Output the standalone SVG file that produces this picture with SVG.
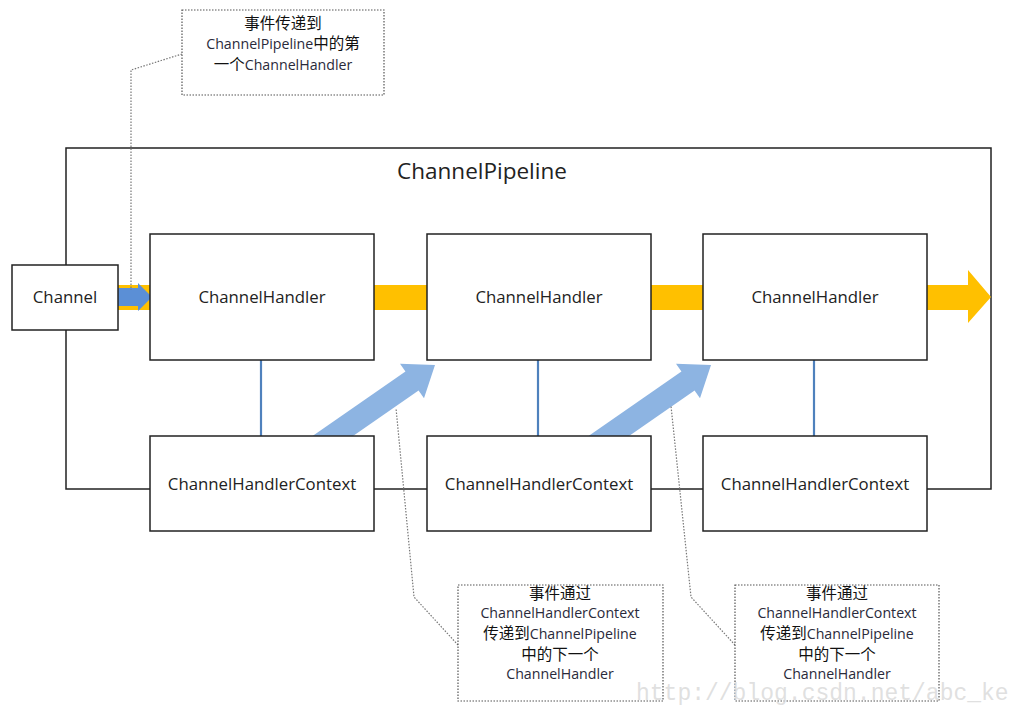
<svg xmlns="http://www.w3.org/2000/svg" width="1010" height="711" viewBox="0 0 1010 711">
<style>
.box{fill:#fff;stroke:#222;stroke-width:1.5}
.pipe{fill:none;stroke:#222;stroke-width:1.5}
.lbl{font-family:"Open Sans","Noto Sans","Noto Sans CJK SC",sans-serif;font-size:16.8px;fill:#222;text-anchor:middle}
.note{fill:#fff;stroke:#555;stroke-width:1.2;stroke-dasharray:1.5 1.5}
.lead{fill:none;stroke:#777;stroke-width:1.2;stroke-dasharray:1.5 1.5}
.nt{font-family:"Open Sans","Noto Sans","Noto Sans CJK SC",sans-serif;font-size:14.2px;fill:#2a2a3a;text-anchor:middle}
.cjk{font-family:"Noto Sans CJK SC",sans-serif;font-size:15.5px;fill:#111}
.link{stroke:#4f81bd;stroke-width:2.2}
.yel{fill:#ffc000}
.blu{fill:#8db4e2}
</style>
<g id="pipeline">
<rect class="pipe" x="66" y="148" width="925" height="341"/>
<text x="482" y="179" class="lbl" style="font-size:22.5px">ChannelPipeline</text>
</g>
<g id="connectors">
<rect class="yel" x="118" y="285" width="32" height="25"/>
<polygon fill="#5b8fd6" points="118,288 138,288 138,283 152,297 138,311 138,306 118,306"/>
<rect class="yel" x="374" y="285" width="53" height="25"/>
<rect class="yel" x="651" y="285" width="52" height="25"/>
<polygon class="yel" points="927,285 968,285 968,270 991,297 968,323 968,310 927,310"/>
<polygon class="blu" transform="translate(435,365) rotate(-34.8)" points="-160,-11.5 -28,-11.5 -28,-21 0,0 -28,21 -28,11.5 -160,11.5"/>
<polygon class="blu" transform="translate(711,365) rotate(-34.8)" points="-160,-11.5 -28,-11.5 -28,-21 0,0 -28,21 -28,11.5 -160,11.5"/>
<line class="link" x1="261" y1="360" x2="261" y2="436"/>
<line class="link" x1="538" y1="360" x2="538" y2="436"/>
<line class="link" x1="814" y1="360" x2="814" y2="436"/>
<polyline class="lead" points="182,54 131,70 131,290"/>
<polyline class="lead" points="458,645 414,597 396,408"/>
<polyline class="lead" points="735,645 691,597 671,406"/>
</g>
<g id="channel">
<rect class="box" x="12" y="265" width="106" height="65"/>
<text x="65" y="303" class="lbl">Channel</text>
</g>
<g id="handler1">
<rect class="box" x="150" y="234" width="224" height="126"/>
<text x="262" y="303" class="lbl">ChannelHandler</text>
</g>
<g id="handler2">
<rect class="box" x="427" y="234" width="224" height="126"/>
<text x="539" y="303" class="lbl">ChannelHandler</text>
</g>
<g id="handler3">
<rect class="box" x="703" y="234" width="224" height="126"/>
<text x="815" y="303" class="lbl">ChannelHandler</text>
</g>
<g id="context1">
<rect class="box" x="150" y="436" width="224" height="95"/>
<text x="262" y="490" class="lbl">ChannelHandlerContext</text>
</g>
<g id="context2">
<rect class="box" x="427" y="436" width="224" height="95"/>
<text x="539" y="490" class="lbl">ChannelHandlerContext</text>
</g>
<g id="context3">
<rect class="box" x="703" y="436" width="224" height="95"/>
<text x="815" y="490" class="lbl">ChannelHandlerContext</text>
</g>
<g id="note-top">
<rect class="note" x="182" y="10" width="202" height="85"/>
<text x="283" y="29" class="nt"><tspan class="cjk">事件传递到</tspan></text>
<text x="283" y="49" class="nt">ChannelPipeline<tspan class="cjk">中的第</tspan></text>
<text x="283" y="70" class="nt"><tspan class="cjk">一个</tspan>ChannelHandler</text>
</g>
<g id="note-bottom1">
<rect class="note" x="458" y="585" width="205" height="116"/>
<text x="560" y="599" class="nt"><tspan class="cjk">事件通过</tspan></text>
<text x="560" y="618" class="nt">ChannelHandlerContext</text>
<text x="560" y="639" class="nt"><tspan class="cjk">传递到</tspan>ChannelPipeline</text>
<text x="560" y="660" class="nt"><tspan class="cjk">中的下一个</tspan></text>
<text x="560" y="679" class="nt">ChannelHandler</text>
</g>
<g id="note-bottom2">
<rect class="note" x="735" y="585" width="204" height="116"/>
<text x="837" y="599" class="nt"><tspan class="cjk">事件通过</tspan></text>
<text x="837" y="618" class="nt">ChannelHandlerContext</text>
<text x="837" y="639" class="nt"><tspan class="cjk">传递到</tspan>ChannelPipeline</text>
<text x="837" y="660" class="nt"><tspan class="cjk">中的下一个</tspan></text>
<text x="837" y="679" class="nt">ChannelHandler</text>
</g>
<text x="636" y="700" style="font-family:'Liberation Mono',monospace;font-size:23px;fill:#d8d8d8;fill-opacity:0.8">http://blog.csdn.net/abc_ke</text>
</svg>
